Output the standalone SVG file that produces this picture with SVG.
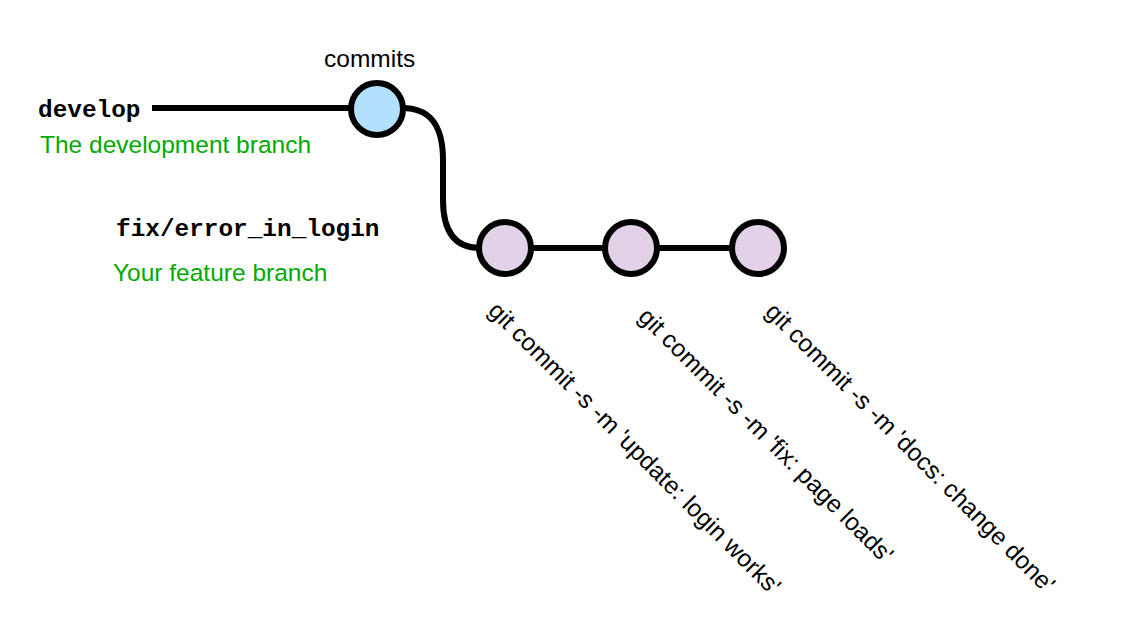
<svg xmlns="http://www.w3.org/2000/svg" width="1128" height="644" viewBox="0 0 1128 644">
<style>
.line{fill:none;stroke:#000;stroke-width:6}
.node{stroke:#000;stroke-width:6}
.dev{fill:#b3e0ff}
.feat{fill:#e3d1e8}
.mono{font-family:"Liberation Mono","DejaVu Sans Mono",monospace;font-weight:bold;font-size:24.4px;fill:#000}
.sans{font-family:"Liberation Sans",Arial,sans-serif;font-size:24.5px;fill:#000}
.green{fill:#00aa00}
</style>
<rect width="1128" height="644" fill="#fff"/>
<g id="connectors">
<path class="line" d="M152,108 L352,108"/>
<path class="line" d="M402,108 C430,108 443,125 443,160 L443,200 C443,235 458,248 480,248"/>
<path class="line" d="M530,248 L606,248"/>
<path class="line" d="M656,248 L733,248"/>
</g>
<g id="labels">
<text class="mono" x="38" y="117">develop</text>
<text class="sans green" x="40" y="153">The development branch</text>
<text class="mono" x="116" y="236">fix/error_in_login</text>
<text class="sans green" x="113" y="281">Your feature branch</text>
<text class="sans" x="324" y="67">commits</text>
</g>
<g id="commit-develop"><circle class="node dev" cx="377" cy="109" r="26"/></g>
<g id="commit-1">
<circle class="node feat" cx="505" cy="248" r="26"/>
<text class="sans" transform="translate(487,312) rotate(45)">git commit -s -m 'update: login works'</text>
</g>
<g id="commit-2">
<circle class="node feat" cx="631" cy="248" r="26"/>
<text class="sans" transform="translate(637,318) rotate(45)">git commit -s -m 'fix: page loads'</text>
</g>
<g id="commit-3">
<circle class="node feat" cx="758" cy="248" r="26"/>
<text class="sans" transform="translate(764,313) rotate(45)">git commit -s -m 'docs: change done'</text>
</g>
</svg>
